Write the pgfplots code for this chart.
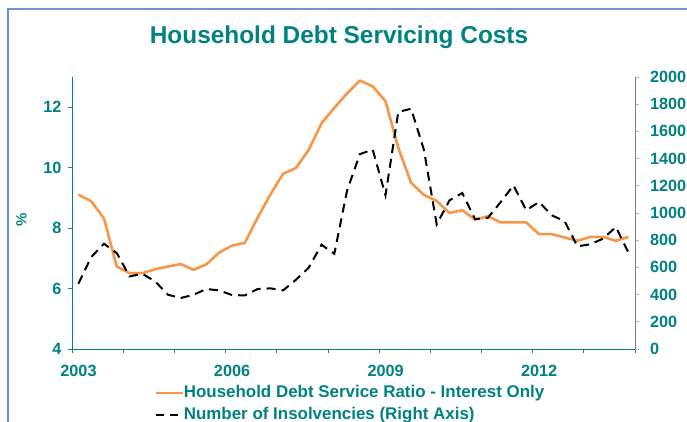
\documentclass[border=0pt]{standalone}
\usepackage{pgfplots}
\usepackage{pgfplotstable}
\pgfplotsset{compat=1.18}
\usepackage{fontspec}
\setmainfont{Liberation Sans}
\definecolor{myteal}{RGB}{0,130,128}
\definecolor{myorange}{RGB}{247,150,70}
\definecolor{myframe}{RGB}{110,145,205}
\definecolor{mygray}{RGB}{128,128,128}

\pgfplotstableread{
x dsr ins
2003.125 9.11 480
2003.375 8.89 676
2003.625 8.32 774
2003.875 6.73 705
2004.125 6.51 534
2004.375 6.51 553
2004.625 6.64 497
2004.875 6.73 399
2005.125 6.81 375
2005.375 6.62 399
2005.625 6.80 441
2005.875 7.19 431
2006.125 7.42 397
2006.375 7.51 394
2006.625 8.34 441
2006.875 9.11 446
2007.125 9.80 431
2007.375 9.99 509
2007.625 10.59 598
2007.875 11.47 767
2008.125 11.98 700
2008.375 12.46 1166
2008.625 12.88 1433
2008.875 12.69 1466
2009.125 12.20 1130
2009.375 10.66 1743
2009.625 9.50 1767
2009.875 9.10 1466
2010.125 8.90 917
2010.375 8.50 1093
2010.625 8.59 1147
2010.875 8.28 955
2011.125 8.39 965
2011.375 8.19 1080
2011.625 8.19 1203
2011.875 8.19 1020
2012.125 7.80 1081
2012.375 7.80 983
2012.625 7.69 939
2012.875 7.58 755
2013.125 7.71 770
2013.375 7.71 811
2013.625 7.58 897
2013.875 7.71 706
}\datatable

\begin{document}
\begin{tikzpicture}[x=1bp,y=1bp]
\useasboundingbox (-72,-72) rectangle (615,349);
\draw[myframe, line width=1.5bp] (-64,-90) -- (-64,340) -- (640,340);
\begin{axis}[
  at={(0,0)}, anchor=south west, scale only axis,
  width=563bp, height=272bp,
  xmin=2003, xmax=2014, ymin=4, ymax=13,
  axis x line*=bottom, axis y line*=left,
  x axis line style={-, myteal, line width=0.8bp},
  y axis line style={-, myteal, line width=0.8bp},
  xtick={2003,2006,2009,2012},
  minor xtick={2004,2005,2007,2008,2010,2011,2013,2014},
  ytick={4,6,8,10,12},
  tick align=outside,
  major tick length=4bp, minor tick length=4bp,
  every tick/.style={myteal!70!gray, line width=0.8bp},
  /pgf/number format/.cd, 1000 sep={}, assume math mode=true, /pgfplots/.cd,
  tick label style={font=\fontsize{16.3}{19}\bfseries, text=myteal},
  xticklabel style={xshift=6.5bp, yshift=-8.5bp},
  yticklabel style={xshift=-3bp},
  legend style={at={(axis description cs:0.1457,-0.132)}, anchor=north west,
    draw=none, fill=none, font=\fontsize{17}{20}\bfseries, text=myteal,
    row sep=6bp, column sep=0bp, inner sep=0pt,
    nodes={inner sep=0pt, text height=12bp, text depth=4bp}},
  legend cell align=left,
  legend image code/.code={\draw[#1] (0bp,0bp) -- (27bp,0bp);},
]
\addplot[myorange, line width=2.6bp, line join=round] table[x=x, y=dsr] {\datatable};
\addlegendentry{Household Debt Service Ratio - Interest Only}
\addlegendimage{black, line width=2bp, dash pattern=on 8bp off 6bp}
\addlegendentry{Number of Insolvencies (Right Axis)}
\end{axis}
\begin{axis}[
  at={(0,0)}, anchor=south west, scale only axis,
  width=563bp, height=272bp,
  xmin=2003, xmax=2014, ymin=0, ymax=2000,
  axis y line*=right, axis x line=none,
  y axis line style={-, mygray, line width=0.8bp},
  ytick={0,200,...,2000},
  tick align=outside,
  major tick length=4bp,
  every tick/.style={mygray!60, line width=0.8bp},
  /pgf/number format/.cd, 1000 sep={}, assume math mode=true, /pgfplots/.cd,
  tick label style={font=\fontsize{16.3}{19}\bfseries, text=myteal},
  yticklabel style={xshift=7.5bp},
]
\addplot[black, line width=2bp, dash pattern=on 9bp off 6bp] table[x=x, y=ins] {\datatable};
\end{axis}
\node[anchor=base, text=myteal, font=\fontsize{24.5}{29}\bfseries] at (267,306) {Household Debt Servicing Costs};
\node[rotate=90, text=myteal, font=\fontsize{15}{18}\bfseries] at (-50.5,129) {\%};
\end{tikzpicture}
\end{document}
